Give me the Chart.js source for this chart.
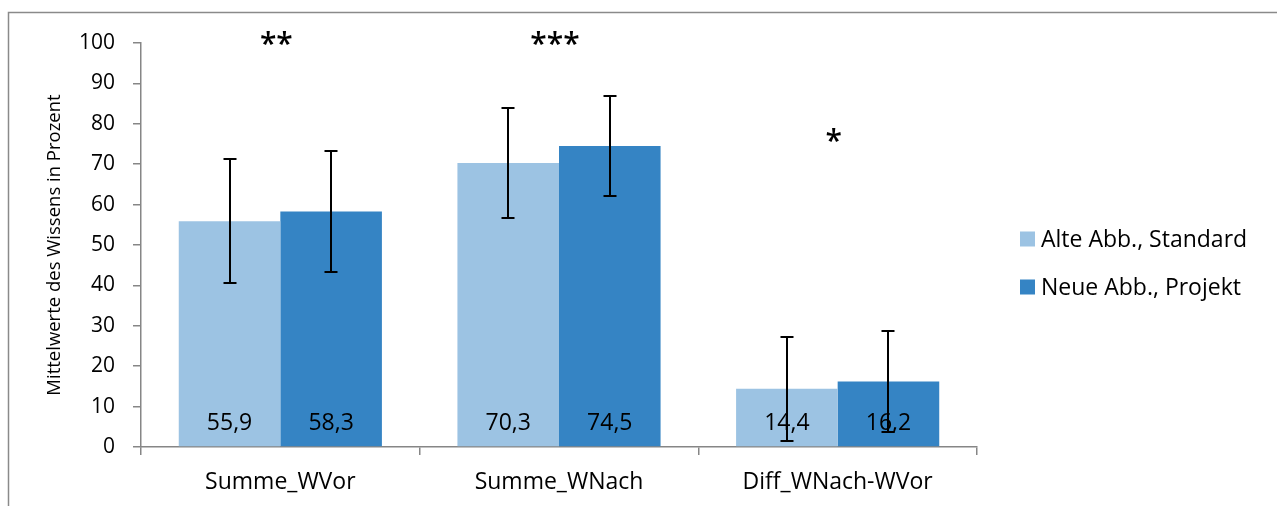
<!DOCTYPE html>
<html><head><meta charset="utf-8">
<script src="https://cdn.jsdelivr.net/npm/chart.js@4/dist/chart.umd.min.js"></script>
<style>html,body{margin:0;padding:0;background:#fff;}#wrap{width:1277px;height:506px;position:relative;}</style>
</head><body><div id="wrap"><canvas id="c" width="1277" height="506"></canvas></div>
<script>
const categories = ['Summe_WVor', 'Summe_WNach', 'Diff_WNach-WVor'];
const seriesNames = ['Alte Abb., Standard', 'Neue Abb., Projekt'];
const alteValues = [55.9, 70.3, 14.4];
const neueValues = [58.3, 74.5, 16.2];
const alteSD = [15.3, 13.6, 12.8];
const neueSD = [14.9, 12.3, 12.5];
const sigLabels = ['**', '***', '*'];
const sigLevel = [101.2, 101.2, 77.0];
const yTickValues = [0, 10, 20, 30, 40, 50, 60, 70, 80, 90, 100];
const yTitle = 'Mittelwerte des Wissens in Prozent';

const colors = ['#9cc3e3', '#3584c4'];
const sds = [alteSD, neueSD];
const FONT = '"Open Sans", "Noto Sans", sans-serif';
const axisColor = '#868686';

const extras = {
  id: 'extras',
  beforeDraw(chart) {
    const ctx = chart.ctx;
    ctx.save();
    ctx.strokeStyle = '#8a8a8a';
    ctx.lineWidth = 1.5;
    ctx.beginPath();
    ctx.moveTo(8.5, 506);
    ctx.lineTo(8.5, 12.5);
    ctx.lineTo(1277, 12.5);
    ctx.stroke();
    ctx.restore();
  },
  afterDatasetsDraw(chart) {
    const ctx = chart.ctx;
    const y = chart.scales.y;
    const x = chart.scales.x;
    ctx.save();
    // value labels
    ctx.fillStyle = '#000';
    ctx.font = '23px ' + FONT;
    ctx.textAlign = 'center';
    ctx.textBaseline = 'middle';
    chart.data.datasets.forEach((ds, di) => {
      const meta = chart.getDatasetMeta(di);
      meta.data.forEach((el, i) => {
        ctx.fillText(ds.data[i].toFixed(1).replace('.', ','), el.x, y.getPixelForValue(0) - 24);
      });
    });
    // error bars
    ctx.strokeStyle = '#000';
    ctx.lineWidth = 2;
    chart.data.datasets.forEach((ds, di) => {
      const meta = chart.getDatasetMeta(di);
      meta.data.forEach((el, i) => {
        const v = ds.data[i], sd = sds[di][i];
        const yt = Math.round(y.getPixelForValue(v + sd)), yb = Math.round(y.getPixelForValue(v - sd));
        const cx = Math.round(el.x);
        ctx.beginPath();
        ctx.moveTo(cx, yt); ctx.lineTo(cx, yb);
        ctx.moveTo(cx - 6.5, yt); ctx.lineTo(cx + 6.5, yt);
        ctx.moveTo(cx - 6.5, yb); ctx.lineTo(cx + 6.5, yb);
        ctx.stroke();
      });
    });
    // significance stars
    ctx.font = '600 30px ' + FONT;
    ctx.textBaseline = 'alphabetic';
    sigLabels.forEach((s, i) => {
      const m = ctx.measureText(s);
      const cy = y.getPixelForValue(sigLevel[i]);
      ctx.fillText(s, x.getPixelForValue(i) - 4, cy + (m.actualBoundingBoxAscent - m.actualBoundingBoxDescent) / 2);
    });
    // legend
    ctx.font = '23px ' + FONT;
    ctx.textAlign = 'left';
    ctx.textBaseline = 'middle';
    seriesNames.forEach((n, i) => {
      const cy = 239 + i * 48;
      ctx.fillStyle = colors[i];
      ctx.fillRect(1020, cy - 7.5, 15, 15);
      ctx.fillStyle = '#000';
      ctx.fillText(n, 1041, cy + 1);
    });
    ctx.restore();
  }
};

new Chart(document.getElementById('c'), {
  type: 'bar',
  data: {
    labels: categories,
    datasets: [
      { label: seriesNames[0], data: alteValues, backgroundColor: colors[0] },
      { label: seriesNames[1], data: neueValues, backgroundColor: colors[1] }
    ]
  },
  options: {
    responsive: false,
    animation: false,
    devicePixelRatio: 1,
    categoryPercentage: 0.729,
    barPercentage: 1.0,
    layout: { padding: { left: 0, top: 43, right: 300, bottom: 0 } },
    plugins: { legend: { display: false }, tooltip: { enabled: false } },
    scales: {
      x: {
        offset: true,
        grid: { offset: true, drawOnChartArea: false, drawTicks: true, tickLength: 8, color: axisColor, lineWidth: 1.5 },
        border: { color: axisColor, width: 1.5 },
        ticks: { color: '#000', font: { family: FONT, size: 23 }, padding: 14, maxRotation: 0 },
        afterFit(s) { s.height = 59; }
      },
      y: {
        min: 0, max: 100,
        afterBuildTicks(s) { s.ticks = yTickValues.map(v => ({ value: v })); },
        grid: { drawOnChartArea: false, drawTicks: true, tickLength: 8, color: axisColor, lineWidth: 1.5 },
        border: { color: axisColor, width: 1.5 },
        ticks: { color: '#000', font: { family: FONT, size: 21 }, padding: 18 },
        title: { display: true, text: yTitle, color: '#000', font: { family: FONT, size: 18.5 }, padding: { top: 44, bottom: 0 } },
        afterFit(s) { s.width = 141; }
      }
    }
  },
  plugins: [extras]
});
</script></body></html>
